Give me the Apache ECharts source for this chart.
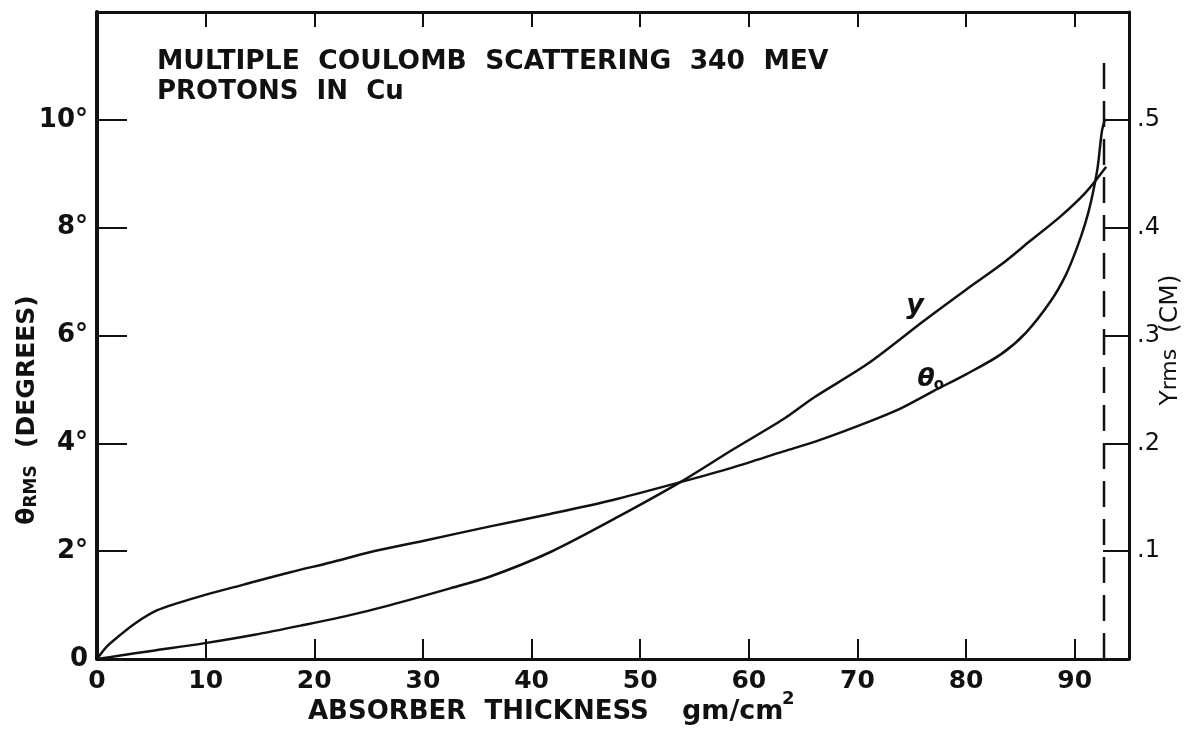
<!DOCTYPE html>
<html><head><meta charset="utf-8">
<script src="https://cdn.jsdelivr.net/npm/echarts@6/dist/echarts.min.js"></script>
<style>html,body{margin:0;padding:0;background:#fff}#c{width:1193px;height:735px}</style>
</head><body><div id="c"></div>
<script>
// theta_0 (degrees) vs absorber thickness (gm/cm^2)
const thetaX = [0,0.9,2.1,3.5,5.5,7.5,9.8,13.5,17.8,21.5,25.1,30,36.2,41.7,47.5,53.7,58.5,63.2,66.5,70.9,74,77,80,83.2,85.5,87.8,89.2,90.2,91,91.5,92.1,92.5,92.8];
const thetaDeg = [0,0.23,0.44,0.66,0.9,1.04,1.18,1.38,1.61,1.79,1.98,2.19,2.46,2.69,2.95,3.28,3.55,3.85,4.06,4.39,4.65,4.97,5.28,5.65,6.05,6.64,7.13,7.62,8.1,8.48,9.1,9.78,10.02];
// y_rms (cm) vs absorber thickness
const yX = [0,2,5,9.8,14.5,19,23,27,32.5,36.2,41.7,47.9,53.7,58.5,63.2,66,70.9,76.1,80,83.2,86,88.7,91,92.9];
const yCm = [0,0.003,0.0075,0.0145,0.0225,0.0315,0.04,0.05,0.0655,0.0765,0.099,0.1315,0.164,0.194,0.2225,0.2425,0.2735,0.3135,0.3425,0.3655,0.3885,0.4105,0.4325,0.4565];
// range limit (dashed)
const dashX = [92.7,92.7];
const dashDeg = [0,11.1];

const FONT = 'DejaVu Sans';
const INK = '#111';
const zip = (a,b) => a.map((v,i)=>[v,b[i]]);

const chart = echarts.init(document.getElementById('c'), null, {renderer:'canvas'});
const lbl = {fontFamily:FONT, fontWeight:'bold', color:INK, fontSize:25};
chart.setOption({
  animation:false,
  backgroundColor:'#fff',
  grid:{left:97,right:64,top:12,bottom:76},
  xAxis:[
    {type:'value',min:0,max:95,interval:10,position:'bottom',
     axisLine:{onZero:false,lineStyle:{color:INK,width:3}},
     axisTick:{inside:true,length:20,lineStyle:{color:INK,width:2}},
     axisLabel:Object.assign({}, lbl, {margin:10, formatter:v => (v<=90 ? String(v) : '')}),
     splitLine:{show:false}},
    {type:'value',min:0,max:95,interval:10,position:'top',
     axisLine:{onZero:false,lineStyle:{color:INK,width:3}},
     axisTick:{inside:true,length:15,lineStyle:{color:INK,width:2}},
     axisLabel:{show:false},splitLine:{show:false}}
  ],
  yAxis:[
    {type:'value',min:0,max:12,interval:2,position:'left',
     axisLine:{show:true,onZero:false,lineStyle:{color:INK,width:4}},
     axisTick:{show:true,inside:true,length:30,lineStyle:{color:INK,width:2}},
     axisLabel:Object.assign({}, lbl, {fontSize:26, margin:9, formatter:v => v===0 ? '0' : (v>=12 ? '' : v+'°')}),
     splitLine:{show:false}},
    {type:'value',min:0,max:0.6,interval:0.1,position:'right',
     axisLine:{show:true,onZero:false,lineStyle:{color:INK,width:3}},
     axisTick:{show:true,inside:true,length:26,lineStyle:{color:INK,width:2}},
     axisLabel:Object.assign({}, lbl, {fontSize:24, margin:8, fontWeight:'normal', formatter:v => (v>0.05 && v<0.55) ? '.'+Math.round(v*10) : ''}),
     splitLine:{show:false}}
  ],
  series:[
    {name:'theta0',type:'line',xAxisIndex:0,yAxisIndex:0,data:zip(thetaX,thetaDeg),smooth:0.3,showSymbol:false,
     lineStyle:{color:INK,width:2.5}},
    {name:'y',type:'line',xAxisIndex:0,yAxisIndex:1,data:zip(yX,yCm),smooth:0.3,showSymbol:false,
     lineStyle:{color:INK,width:2.5}},
    {name:'limit',type:'line',xAxisIndex:0,yAxisIndex:0,data:zip(dashX,dashDeg),showSymbol:false,
     lineStyle:{color:INK,width:2.5,type:[26,12]}}
  ],
  graphic:[
    {type:'text',x:157,y:62,style:{text:'MULTIPLE  COULOMB  SCATTERING  340  MEV',font:'bold 26.5px "DejaVu Sans"',fill:INK,textVerticalAlign:'middle'}},
    {type:'text',x:157,y:92,style:{text:'PROTONS  IN  Cu',font:'bold 26px "DejaVu Sans"',fill:INK,textVerticalAlign:'middle'}},
    {type:'text',x:308,y:712,style:{text:'ABSORBER  THICKNESS',font:'bold 26px "DejaVu Sans"',fill:INK,textVerticalAlign:'middle'}},
    {type:'text',x:682,y:712,style:{text:'gm/cm',font:'bold 27px "DejaVu Sans"',fill:INK,textVerticalAlign:'middle'}},
    {type:'text',x:782,y:699,style:{text:'2',font:'bold 18px "DejaVu Sans"',fill:INK,textVerticalAlign:'middle'}},
    {type:'text',x:27,y:410,rotation:Math.PI/2,style:{
      text:'{a|θ}{s|RMS}{a|  (DEGREES)}',fill:INK,textAlign:'center',textVerticalAlign:'middle',
      rich:{a:{fontFamily:FONT,fontWeight:'bold',fontSize:25,fill:INK},
            s:{fontFamily:FONT,fontWeight:'bold',fontSize:17,fill:INK,padding:[10,0,0,0]}}}},
    {type:'text',x:1170,y:340,rotation:Math.PI/2,style:{
      text:'{a|Y}{s|rms}{a|  (CM)}',fill:INK,textAlign:'center',textVerticalAlign:'middle',
      rich:{a:{fontFamily:FONT,fontSize:25,fill:INK},s:{fontFamily:FONT,fontSize:22,fill:INK}}}},
    {type:'text',x:915,y:306,style:{text:'y',font:'italic bold 27px "DejaVu Sans"',fill:INK,textAlign:'center',textVerticalAlign:'middle'}},
    {type:'text',x:926,y:379,style:{text:'θ',font:'italic bold 25px "DejaVu Sans"',fill:INK,textAlign:'center',textVerticalAlign:'middle'}},
    {type:'text',x:939,y:385,style:{text:'o',font:'bold 15px "DejaVu Sans"',fill:INK,textAlign:'center',textVerticalAlign:'middle'}}
  ]
});
</script></body></html>
